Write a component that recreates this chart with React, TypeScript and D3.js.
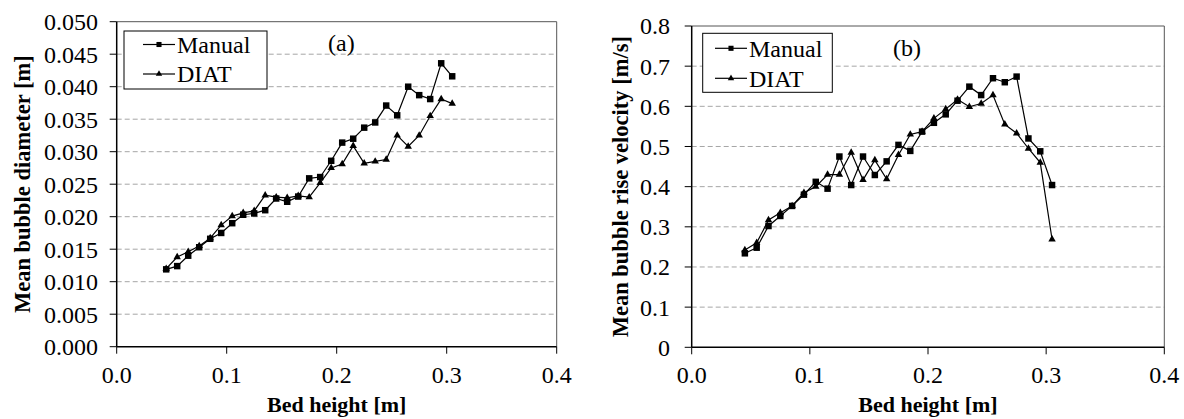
import React from "react";
import * as d3 from "d3";

const bedHeight = [0.045, 0.055, 0.065, 0.075, 0.085, 0.095, 0.105, 0.115, 0.125, 0.135, 0.145, 0.155, 0.165, 0.175, 0.185, 0.195, 0.205, 0.215, 0.225, 0.235, 0.245, 0.255, 0.265, 0.275, 0.285, 0.295, 0.305];
const manualDiameter = [0.0119, 0.0124, 0.0140, 0.0153, 0.0166, 0.0175, 0.0190, 0.0203, 0.0205, 0.0210, 0.0228, 0.0223, 0.0231, 0.0259, 0.0261, 0.0286, 0.0314, 0.0320, 0.0337, 0.0345, 0.0371, 0.0356, 0.0400, 0.0387, 0.0381, 0.0436, 0.0416];
const diatDiameter = [0.0120, 0.0138, 0.0146, 0.0155, 0.0167, 0.0187, 0.0201, 0.0206, 0.0209, 0.0233, 0.0230, 0.0229, 0.0232, 0.0230, 0.0252, 0.0275, 0.0281, 0.0309, 0.0282, 0.0285, 0.0288, 0.0325, 0.0308, 0.0325, 0.0355, 0.0381, 0.0374];
const manualVelocity = [0.234, 0.248, 0.302, 0.327, 0.352, 0.380, 0.412, 0.395, 0.475, 0.404, 0.475, 0.429, 0.463, 0.504, 0.489, 0.537, 0.559, 0.580, 0.614, 0.649, 0.628, 0.670, 0.660, 0.674, 0.520, 0.488, 0.404];
const diatVelocity = [0.242, 0.260, 0.317, 0.335, 0.352, 0.385, 0.400, 0.430, 0.430, 0.485, 0.417, 0.466, 0.419, 0.479, 0.530, 0.537, 0.570, 0.593, 0.617, 0.599, 0.607, 0.628, 0.555, 0.533, 0.495, 0.460, 0.269];

const xTicks = [0, 0.1, 0.2, 0.3, 0.4];
const diameterTicks = [0, 0.005, 0.01, 0.015, 0.02, 0.025, 0.03, 0.035, 0.04, 0.045, 0.05];
const velocityTicks = [0, 0.1, 0.2, 0.3, 0.4, 0.5, 0.6, 0.7, 0.8];
const seriesNames = ["Manual", "DIAT"];

const FONT = "'Liberation Serif', 'Times New Roman', serif";

type PanelProps = {
  x0: number; x1: number; top: number; bottom: number;
  yMax: number; yTicks: number[]; yFmt: (v: number) => string;
  manual: number[]; diat: number[];
  yTitle: string; yTitleX: number; yLabelX: number;
  legend: { left: number; right: number; top: number; bottom: number; lineX0: number; lineX1: number; textX: number; rowY: number[] };
  tag: string; tagX: number; tagY: number;
};

function Panel(p: PanelProps) {
  const x = d3.scaleLinear().domain([0, 0.4]).range([p.x0, p.x1]);
  const y = d3.scaleLinear().domain([0, p.yMax]).range([p.bottom, p.top]);
  const line = d3.line<[number, number]>().x(d => x(d[0])).y(d => y(d[1]));
  const mPts: [number, number][] = bedHeight.map((h, i) => [h, p.manual[i]]);
  const dPts: [number, number][] = bedHeight.map((h, i) => [h, p.diat[i]]);
  const sq = d3.symbol().type(d3.symbolSquare).size(42)()!;
  const tri = d3.symbol().type(d3.symbolTriangle).size(24)()!;
  const sqSmall = d3.symbol().type(d3.symbolSquare).size(26)()!;
  const triSmall = d3.symbol().type(d3.symbolTriangle).size(18)()!;
  const cy = (p.top + p.bottom) / 2;
  const cx = (p.x0 + p.x1) / 2;
  return (
    <g>
      {p.yTicks.slice(1, -1).map(t => (
        <line key={"g" + t} x1={p.x0} x2={p.x1} y1={y(t)} y2={y(t)} stroke="#a6a6a6" strokeWidth={1} strokeDasharray="5,3" />
      ))}
      <line x1={p.x0} x2={p.x1} y1={p.top} y2={p.top} stroke="#555" strokeWidth={1} />
      <line x1={p.x1} x2={p.x1} y1={p.top} y2={p.bottom} stroke="#555" strokeWidth={1} />
      <line x1={p.x0} x2={p.x0} y1={p.top} y2={p.bottom} stroke="#000" strokeWidth={1.5} />
      <line x1={p.x0} x2={p.x1} y1={p.bottom} y2={p.bottom} stroke="#000" strokeWidth={1.5} />
      {p.yTicks.map(t => (
        <g key={"y" + t}>
          <line x1={p.x0 - 7} x2={p.x0} y1={y(t)} y2={y(t)} stroke="#000" strokeWidth={1} />
          <text x={p.yLabelX} y={y(t)} dy="0.35em" textAnchor="end" fontFamily={FONT} fontSize={24}>{p.yFmt(t)}</text>
        </g>
      ))}
      {xTicks.map(t => (
        <g key={"x" + t}>
          <line x1={x(t)} x2={x(t)} y1={p.bottom} y2={p.bottom + 7} stroke="#000" strokeWidth={1} />
          <text x={x(t)} y={383} textAnchor="middle" fontFamily={FONT} fontSize={24}>{d3.format(".1f")(t)}</text>
        </g>
      ))}
      <text x={cx} y={412} textAnchor="middle" fontFamily={FONT} fontSize={22} fontWeight="bold">Bed height [m]</text>
      <text transform={`translate(${p.yTitleX},${cy}) rotate(-90)`} dy="0.35em" textAnchor="middle" fontFamily={FONT} fontSize={22.5} fontWeight="bold">{p.yTitle}</text>
      <path d={line(mPts)!} fill="none" stroke="#000" strokeWidth={1.2} />
      <path d={line(dPts)!} fill="none" stroke="#000" strokeWidth={1.2} />
      {mPts.map((d, i) => <path key={"m" + i} d={sq} transform={`translate(${x(d[0])},${y(d[1])})`} fill="#000" />)}
      {dPts.map((d, i) => <path key={"d" + i} d={tri} transform={`translate(${x(d[0])},${y(d[1])})`} fill="#000" />)}
      <rect x={p.legend.left} y={p.legend.top} width={p.legend.right - p.legend.left} height={p.legend.bottom - p.legend.top} fill="#fff" stroke="#000" strokeWidth={1} />
      {seriesNames.map((name, i) => {
        const ry = p.legend.rowY[i];
        const mx = (p.legend.lineX0 + p.legend.lineX1) / 2;
        return (
          <g key={name}>
            <line x1={p.legend.lineX0} x2={p.legend.lineX1} y1={ry} y2={ry} stroke="#000" strokeWidth={1.2} />
            <path d={i === 0 ? sqSmall : triSmall} transform={`translate(${mx},${ry})`} fill="#000" />
            <text x={p.legend.textX} y={ry} dy="0.35em" fontFamily={FONT} fontSize={24}>{name}</text>
          </g>
        );
      })}
      <text x={p.tagX} y={p.tagY} dy="0.35em" fontFamily={FONT} fontSize={24}>{p.tag}</text>
    </g>
  );
}

export default function App() {
  return (
    <svg width={1184} height={419} style={{ position: "absolute", left: 0, top: 0, background: "#fff" }}>
      <Panel
        x0={116.7} x1={556.7} top={21.7} bottom={346.7}
        yMax={0.05} yTicks={diameterTicks} yFmt={d3.format(".3f")}
        manual={manualDiameter} diat={diatDiameter}
        yTitle="Mean bubble diameter [m]" yTitleX={22} yLabelX={98}
        legend={{ left: 124, right: 267, top: 31, bottom: 89, lineX0: 143, lineX1: 175, textX: 177, rowY: [44.5, 74] }}
        tag="(a)" tagX={328} tagY={43}
      />
      <Panel
        x0={691.7} x1={1164.3} top={26} bottom={347.3}
        yMax={0.8} yTicks={velocityTicks} yFmt={(v: number) => (v === 0 ? "0" : d3.format(".1f")(v))}
        manual={manualVelocity} diat={diatVelocity}
        yTitle="Mean bubble rise velocity [m/s]" yTitleX={620} yLabelX={670}
        legend={{ left: 702.7, right: 832.3, top: 33.3, bottom: 92.3, lineX0: 715, lineX1: 747, textX: 749, rowY: [48.3, 78.3] }}
        tag="(b)" tagX={893} tagY={48}
      />
    </svg>
  );
}
